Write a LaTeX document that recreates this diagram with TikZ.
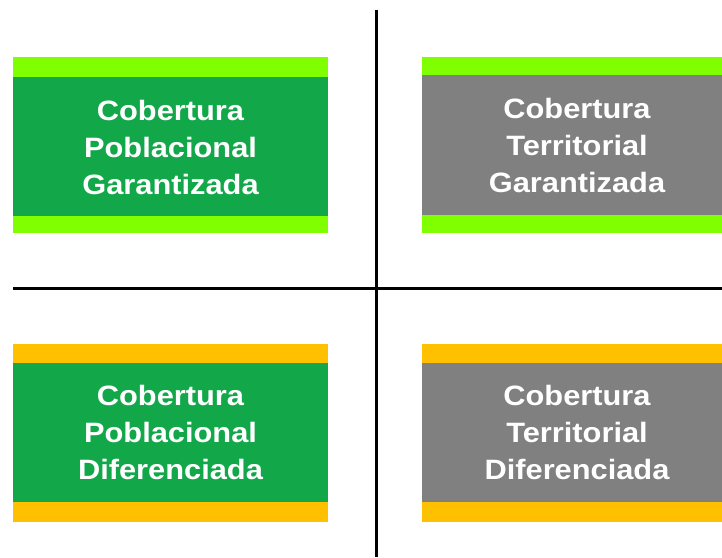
\documentclass[tikz,border=0pt]{standalone}
\usepackage{fontspec}
\newfontfamily\boxfont{Liberation Sans}[FakeStretch=1.1]
\definecolor{dgreen}{RGB}{18,168,74}
\definecolor{lgreen}{RGB}{128,255,0}
\definecolor{mgray}{RGB}{128,128,128}
\definecolor{ambar}{RGB}{255,192,0}
\tikzset{
  boxtext/.style={text=white, font=\boxfont\fontsize{28}{37}\selectfont\bfseries, align=center, inner sep=0pt},
  axis/.style={line width=3pt, black}
}
\begin{document}
\begin{tikzpicture}[x=1pt,y=-1pt]
\useasboundingbox (0,0) rectangle (722,557);
% top-left
\fill[lgreen] (13,57) rectangle (328,233);
\fill[dgreen] (13,77) rectangle (328,216);
\node[boxtext] (tl) at (170.5,147) {Cobertura\\Poblacional\\Garantizada};
% top-right
\fill[lgreen] (422,57) rectangle (722,233);
\fill[mgray] (422,75) rectangle (722,215);
\node[boxtext] (tr) at (577,145) {Cobertura\\Territorial\\Garantizada};
% bottom-left
\fill[ambar] (13,344) rectangle (328,522);
\fill[dgreen] (13,363) rectangle (328,502);
\node[boxtext] (bl) at (170.5,432) {Cobertura\\Poblacional\\Diferenciada};
% bottom-right
\fill[ambar] (422,344) rectangle (722,522);
\fill[mgray] (422,363) rectangle (722,502);
\node[boxtext] (br) at (577,432) {Cobertura\\Territorial\\Diferenciada};
% axes
\coordinate (vtop) at (376,10);
\coordinate (vbot) at (376,557);
\coordinate (hl) at (13,288);
\coordinate (hr) at (722,288);
\draw[axis] (vtop) -- (vbot);
\draw[axis] (hl) -- (hr);
\end{tikzpicture}
\end{document}
